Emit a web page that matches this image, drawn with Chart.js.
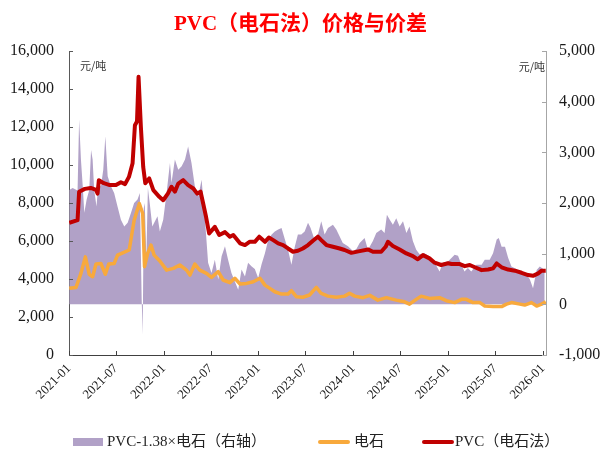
<!DOCTYPE html>
<html>
<head>
<meta charset="utf-8">
<title>PVC（电石法）价格与价差</title>
<script src="https://cdn.jsdelivr.net/npm/chart.js@4/dist/chart.umd.min.js"></script>
<style>
  html, body { margin: 0; padding: 0; background: #fff; }
  #wrap { position: relative; width: 601px; height: 451px; }
  .lg { position: absolute; font: 15px "Liberation Serif", "Noto Sans CJK SC", serif; color: #222; line-height: 18px; white-space: nowrap; }
  .sw { position: absolute; }
</style>
</head>
<body>
<div id="wrap">
  <canvas id="spreadChart" width="601" height="451"></canvas>
  <div class="sw" style="left:73px;top:438px;width:30px;height:8px;background:#b1a1c7;"></div>
  <div class="lg" style="left:107px;top:432px;">PVC-1.38×电石（右轴）</div>
  <div class="sw" style="left:318px;top:440px;width:32px;height:4px;background:#f8a93c;border-radius:2px;"></div>
  <div class="lg" style="left:354px;top:432px;">电石</div>
  <div class="sw" style="left:422px;top:440px;width:32px;height:4px;background:#c00000;border-radius:2px;"></div>
  <div class="lg" style="left:455px;top:432px;">PVC（电石法）</div>
</div>
<script>
// PVC（电石法）价格，元/吨
const pvcDates = ['2021-01-02','2021-02-03','2021-02-09','2021-03-03','2021-03-26','2021-04-15','2021-04-21','2021-04-26','2021-05-15','2021-06-07',
  '2021-07-01','2021-07-20','2021-08-05','2021-08-20','2021-09-03','2021-09-12','2021-09-20','2021-09-26','2021-10-05','2021-10-14',
  '2021-10-22','2021-11-06','2021-11-22','2021-12-15','2021-12-30','2022-01-17','2022-01-31','2022-02-13','2022-02-26','2022-03-17',
  '2022-04-05','2022-04-25','2022-05-10','2022-05-23','2022-06-02','2022-06-13','2022-06-25','2022-07-17','2022-08-03','2022-08-25',
  '2022-09-13','2022-09-26','2022-10-22','2022-11-10','2022-11-29','2022-12-18','2023-01-04','2023-01-26','2023-02-10','2023-02-27',
  '2023-03-18','2023-04-06','2023-04-25','2023-05-14','2023-06-02','2023-06-21','2023-07-11','2023-07-30','2023-08-18','2023-08-31',
  '2023-09-20','2023-10-15','2023-11-10','2023-11-29','2023-12-25','2024-01-26','2024-02-27','2024-03-17','2024-04-18','2024-05-05',
  '2024-05-14','2024-06-02','2024-06-28','2024-07-24','2024-08-18','2024-09-06','2024-09-26','2024-10-21','2024-11-10','2024-12-05',
  '2025-01-01','2025-01-14','2025-02-15','2025-03-06','2025-03-25','2025-04-14','2025-05-10','2025-06-04','2025-06-23','2025-07-07',
  '2025-07-26','2025-08-20','2025-09-15','2025-10-11','2025-11-05','2025-11-24','2025-12-14','2025-12-27','2026-01-12'];
const pvcPrice = [6960,7100,8600,8750,8800,8700,8500,9200,9050,8950,
  8950,9100,9000,9380,10100,12100,12300,14650,12000,9900,
  9050,9300,8680,8330,8150,8500,8860,8600,9030,9210,
  8950,8770,8500,8600,7980,7280,6400,6750,6320,6470,
  6230,6320,5880,5790,5970,5960,6230,5960,6190,6050,
  5880,5790,5610,5440,5490,5610,5790,6020,6230,6050,
  5790,5700,5610,5530,5380,5470,5560,5440,5440,5700,
  5960,5740,5560,5350,5210,5040,5260,5090,4860,4740,
  4830,4790,4790,4680,4740,4620,4470,4500,4560,4820,
  4620,4500,4440,4330,4210,4170,4300,4440,4440];

// 电石价格，元/吨
const carbideDates = ['2021-01-02','2021-01-28','2021-02-16','2021-03-05','2021-03-20','2021-04-02','2021-04-15','2021-05-04','2021-05-21','2021-06-03',
  '2021-06-24','2021-07-07','2021-07-27','2021-08-21','2021-09-09','2021-09-29','2021-10-12','2021-10-19','2021-10-31','2021-11-13',
  '2021-11-25','2021-12-17','2022-01-12','2022-02-07','2022-03-04','2022-03-30','2022-04-12','2022-05-01','2022-05-20','2022-06-15',
  '2022-07-04','2022-07-30','2022-08-18','2022-09-13','2022-10-02','2022-10-22','2022-11-16','2022-12-12','2023-01-07','2023-01-26',
  '2023-02-14','2023-03-05','2023-03-31','2023-04-25','2023-05-08','2023-05-27','2023-06-21','2023-07-17','2023-08-12','2023-08-31',
  '2023-09-26','2023-10-28','2023-11-29','2023-12-18','2024-01-07','2024-02-08','2024-03-05','2024-04-05','2024-05-08','2024-06-15',
  '2024-07-17','2024-08-05','2024-08-31','2024-09-19','2024-10-21','2024-11-29','2024-12-25','2025-01-26','2025-02-21','2025-03-12',
  '2025-04-07','2025-05-03','2025-05-22','2025-06-23','2025-07-26','2025-08-14','2025-09-02','2025-10-04','2025-10-23','2025-11-18',
  '2025-12-08','2025-12-27','2026-01-12'];
const carbidePrice = [3510,3560,4300,5170,4250,4120,4790,4820,4250,4790,
  4820,5260,5380,5530,7100,7980,7450,4650,5350,5790,
  5260,4950,4470,4560,4740,4470,4210,4790,4470,4300,
  4090,4390,3950,3810,4040,3740,3770,3860,4040,3680,
  3510,3330,3210,3210,3390,3070,3040,3160,3560,3240,
  3100,3040,3100,3250,3100,3020,3140,2890,3020,2890,
  2800,2680,2930,3100,2980,3020,2860,2760,2930,2930,
  2760,2760,2580,2550,2550,2680,2760,2680,2630,2760,
  2580,2680,2800];

// 价差 PVC-1.38×电石，元/吨（右轴）
const spreadDates = ['2021-01-02','2021-01-15','2021-02-03','2021-02-09','2021-02-16','2021-02-23','2021-03-01','2021-03-10','2021-03-20','2021-03-27',
  '2021-04-02','2021-04-08','2021-04-17','2021-04-24','2021-05-04','2021-05-13','2021-05-21','2021-05-30','2021-06-12','2021-06-24',
  '2021-07-07','2021-07-20','2021-08-02','2021-08-15','2021-08-28','2021-09-09','2021-09-22','2021-10-01','2021-10-08','2021-10-12',
  '2021-10-16','2021-10-20','2021-10-26','2021-11-01','2021-11-08','2021-11-18','2021-12-08','2021-12-17','2021-12-30','2022-01-12',
  '2022-01-25','2022-01-31','2022-02-13','2022-02-26','2022-03-11','2022-03-24','2022-04-05','2022-04-18','2022-05-01','2022-05-14',
  '2022-05-27','2022-06-09','2022-06-21','2022-07-04','2022-07-17','2022-07-30','2022-08-12','2022-08-25','2022-09-06','2022-09-19',
  '2022-10-02','2022-10-15','2022-10-28','2022-11-10','2022-11-22','2022-12-06','2022-12-18','2022-12-31','2023-01-13','2023-01-26',
  '2023-02-08','2023-02-21','2023-03-05','2023-03-18','2023-03-31','2023-04-13','2023-04-25','2023-05-08','2023-05-21','2023-06-02',
  '2023-06-15','2023-06-28','2023-07-11','2023-07-21','2023-08-03','2023-08-18','2023-08-31','2023-09-13','2023-09-26','2023-10-15',
  '2023-10-28','2023-11-10','2023-11-22','2023-12-12','2024-01-01','2024-01-14','2024-01-26','2024-02-14','2024-02-27','2024-03-17',
  '2024-03-30','2024-04-18','2024-05-01','2024-05-10','2024-05-21','2024-06-02','2024-06-15','2024-06-28','2024-07-11','2024-07-24',
  '2024-08-05','2024-08-18','2024-08-31','2024-09-13','2024-10-02','2024-10-21','2024-11-10','2024-11-29','2024-12-12','2025-01-01',
  '2025-01-07','2025-01-26','2025-02-08','2025-02-21','2025-03-05','2025-03-18','2025-03-31','2025-04-20','2025-05-10','2025-05-22',
  '2025-06-10','2025-06-23','2025-07-07','2025-07-15','2025-07-26','2025-08-08','2025-08-20','2025-09-02','2025-09-21','2025-10-11',
  '2025-10-30','2025-11-12','2025-11-24','2025-12-08','2025-12-20','2026-01-08'];
const spreadValue = [2260,2300,2250,3650,2860,2330,1810,2070,2260,3050,
  2860,2260,1935,2390,2330,2660,3320,2530,2330,2200,
  1935,1670,1540,1610,1810,2000,2070,2200,100,-600,
  1900,2000,900,2300,2000,1540,1740,1440,1670,2200,
  2790,2400,2860,2660,2730,2860,3120,2790,2330,2130,
  2460,1670,820,620,880,490,950,1150,880,620,
  450,290,690,550,820,750,700,520,790,1010,
  1280,1380,1440,1480,1510,1280,1080,780,1140,1380,
  1380,1440,1610,1510,1310,1380,1640,1380,1510,1570,
  1480,1340,1210,1150,1050,1100,1210,1310,1080,1250,
  1410,1480,1410,1770,1670,1570,1700,1540,1640,1410,
  1540,1250,1080,990,1010,950,820,650,820,850,
  880,980,960,780,650,720,650,780,780,880,
  880,1010,1280,1310,1140,1140,920,750,700,620,
  590,490,320,680,750,680];

const xTickLabels = ['2021-01','2021-07','2022-01','2022-07','2023-01','2023-07','2024-01','2024-07','2025-01','2025-07','2026-01'];

const DAY = 86400000;
const START = Date.UTC(2021, 0, 1);
const toDay = (s) => {
  const p = s.split('-').map(Number);
  return (Date.UTC(p[0], p[1] - 1, p[2] || 1) - START) / DAY;
};
const toPoints = (dates, vals) => dates.map((d, i) => ({ x: toDay(d), y: vals[i] }));
const tickDays = xTickLabels.map(toDay);

const serif = '"Liberation Serif", "Times New Roman", "Noto Sans CJK SC", serif';

// inward tick marks and the unit labels
const axisDecor = {
  id: 'axisDecor',
  afterDraw(chart) {
    const { ctx, chartArea: a, scales } = chart;
    ctx.save();
    ctx.lineWidth = 1;
    ctx.strokeStyle = '#595959';
    scales.y.ticks.forEach((t) => {
      const py = Math.round(scales.y.getPixelForValue(t.value)) + 0.5;
      ctx.beginPath(); ctx.moveTo(a.left, py); ctx.lineTo(a.left + 4, py); ctx.stroke();
    });
    ctx.strokeStyle = '#a6a6a6';
    scales.y1.ticks.forEach((t) => {
      const py = Math.round(scales.y1.getPixelForValue(t.value)) + 0.5;
      ctx.beginPath(); ctx.moveTo(a.right, py); ctx.lineTo(a.right - 4, py); ctx.stroke();
    });
    ctx.strokeStyle = '#404040';
    tickDays.forEach((d) => {
      const px = Math.round(scales.x.getPixelForValue(d)) + 0.5;
      ctx.beginPath(); ctx.moveTo(px, a.bottom); ctx.lineTo(px, a.bottom - 4); ctx.stroke();
    });
    ctx.fillStyle = '#333';
    ctx.font = '11px "Noto Sans CJK SC", sans-serif';
    ctx.textBaseline = 'middle';
    ctx.textAlign = 'left';
    ctx.fillText('元/吨', a.left + 11, 66);
    ctx.textAlign = 'right';
    ctx.fillText('元/吨', a.right - 1, 67);
    ctx.restore();
  }
};

new Chart(document.getElementById('spreadChart'), {
  type: 'line',
  data: {
    datasets: [
      {
        label: 'PVC（电石法）',
        data: toPoints(pvcDates, pvcPrice),
        yAxisID: 'y',
        borderColor: '#c00000',
        borderWidth: 4,
        borderJoinStyle: 'round',
        pointRadius: 0,
        tension: 0,
        order: 1
      },
      {
        label: '电石',
        data: toPoints(carbideDates, carbidePrice),
        yAxisID: 'y',
        borderColor: '#f8a93c',
        borderWidth: 3.5,
        borderJoinStyle: 'round',
        pointRadius: 0,
        tension: 0,
        order: 2
      },
      {
        label: 'PVC-1.38×电石（右轴）',
        data: toPoints(spreadDates, spreadValue),
        yAxisID: 'y1',
        borderWidth: 0,
        backgroundColor: '#b1a1c7',
        fill: 'origin',
        pointRadius: 0,
        tension: 0,
        order: 3
      }
    ]
  },
  options: {
    responsive: false,
    animation: false,
    layout: { padding: 0 },
    plugins: {
      legend: { display: false },
      tooltip: { enabled: false },
      title: {
        display: true,
        text: 'PVC（电石法）价格与价差',
        color: '#ff0000',
        font: { family: serif, size: 21, weight: 'bold' },
        padding: { top: 12, bottom: 14 }
      }
    },
    scales: {
      x: {
        type: 'linear',
        min: 0,
        max: 1838,
        grid: { display: false, drawTicks: false },
        border: { display: true, color: '#404040', width: 1 },
        afterBuildTicks: (scale) => { scale.ticks = tickDays.map((v) => ({ value: v })); },
        afterFit: (scale) => { scale.height = 96; },
        ticks: {
          autoSkip: false,
          minRotation: 45,
          maxRotation: 45,
          padding: 6,
          color: '#1a1a1a',
          font: { family: serif, size: 13 },
          callback: (v, i) => xTickLabels[i]
        }
      },
      y: {
        position: 'left',
        min: 0,
        max: 16000,
        grid: { display: false, drawTicks: false },
        border: { display: true, color: '#595959', width: 1 },
        afterFit: (scale) => { scale.width = 69; },
        ticks: {
          stepSize: 2000,
          padding: 15,
          color: '#1a1a1a',
          font: { family: serif, size: 16 },
          callback: (v) => v.toLocaleString('en-US')
        }
      },
      y1: {
        position: 'right',
        min: -1000,
        max: 5000,
        grid: { display: false, drawTicks: false },
        border: { display: true, color: '#a6a6a6', width: 1 },
        afterFit: (scale) => { scale.width = 55; },
        ticks: {
          stepSize: 1000,
          padding: 13,
          color: '#1a1a1a',
          font: { family: serif, size: 16 },
          callback: (v) => v.toLocaleString('en-US')
        }
      }
    }
  },
  plugins: [axisDecor]
});
</script>
</body>
</html>
